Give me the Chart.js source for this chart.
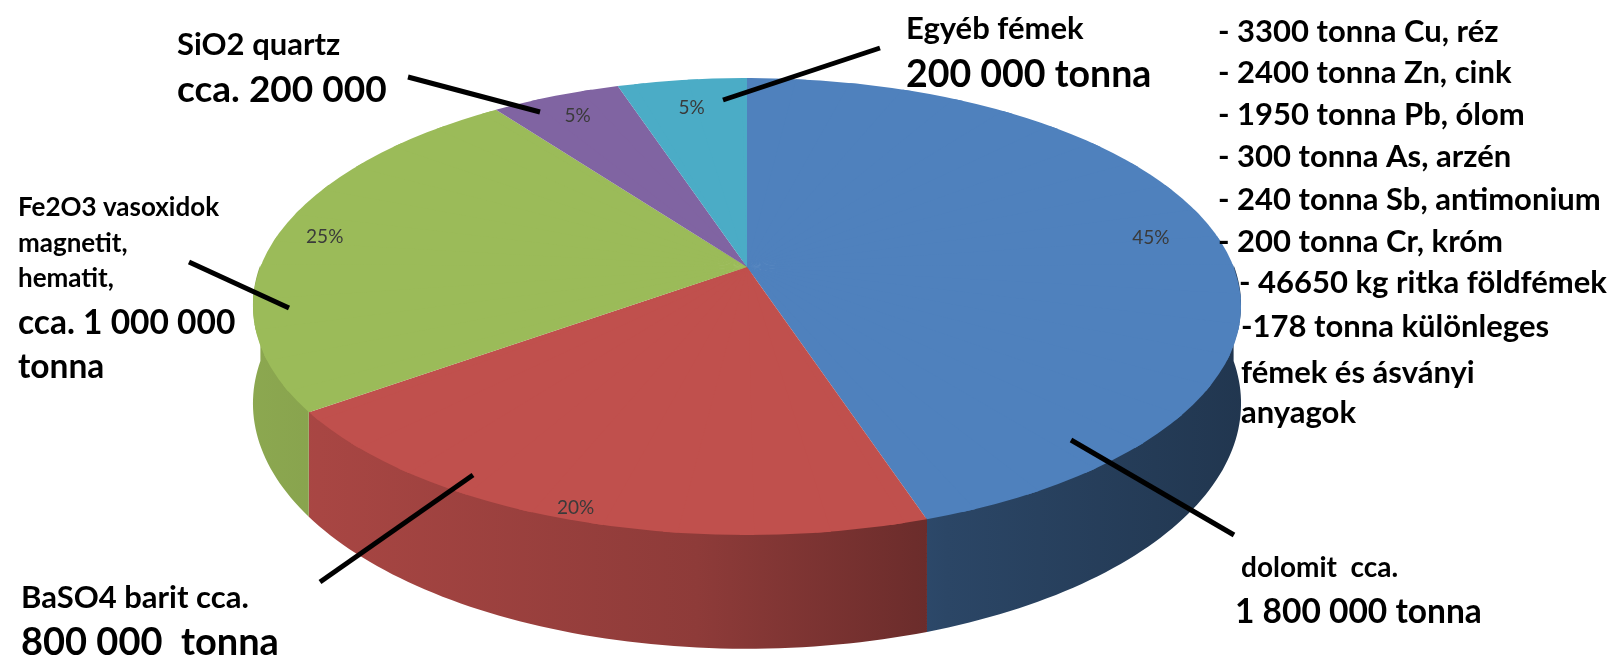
<!DOCTYPE html>
<html>
<head>
<meta charset="utf-8">
<script src="https://cdn.jsdelivr.net/npm/chart.js@4.4.1/dist/chart.umd.min.js"></script>
<style>
  html, body { margin: 0; padding: 0; background: #fff; }
  #pie { display: block; }
</style>
</head>
<body>
<canvas id="pie" width="1621" height="661"></canvas>
<script>
const labels = ['dolomit', 'BaSO4 barit', 'Fe2O3 vasoxidok', 'SiO2 quartz', 'Egyéb fémek'];
const tonnes = [1800000, 800000, 1000000, 200000, 200000];
const sliceColors = ['#4F81BD', '#C0504D', '#9BBB59', '#8064A2', '#4BACC6'];

// how far out (fraction of radius) each percentage sits
const labelDepth = [0.86, 0.96, 0.9, 0.87, 0.83];

// tilted disc seen in perspective: centre, half axes, perspective factor, wall height
const view = { x: 747, y: 267, a: 486.6, b: 221.7, k: 0.173, h: 94 };

const FONT = 'Lato, "Liberation Sans", sans-serif';

const callouts = [
  { text: [['SiO2 quartz', 31, 177, 55], ['cca. 200 000', 37, 177, 102]], line: [408, 77, 540, 112] },
  { text: [['Egyéb fémek', 31, 906, 39], ['200 000 tonna', 37.5, 906, 87]], line: [880, 48, 723, 100] },
  { text: [['Fe2O3 vasoxidok', 26, 18, 216], ['magnetit,', 26, 18, 252], ['hematit,', 26, 18, 287],
           ['cca. 1 000 000', 33.5, 18, 334], ['tonna', 33.5, 18, 378]], line: [189, 262, 289, 308] },
  { text: [['BaSO4 barit cca.', 31, 21, 608], ['800 000  tonna', 38, 21, 655]], line: [320, 582, 473, 475] },
  { text: [['dolomit  cca.', 28, 1241, 577], ['1 800 000 tonna', 33.5, 1235, 623]], line: [1071, 440, 1234, 535] },
  { text: [['- 3300 tonna Cu, réz', 31, 1218, 42], ['- 2400 tonna Zn, cink', 31, 1218, 83],
           ['- 1950 tonna Pb, ólom', 31, 1218, 125], ['- 300 tonna As, arzén', 31, 1218, 167],
           ['- 240 tonna Sb, antimonium', 31, 1218, 210], ['- 200 tonna Cr, króm', 31, 1218, 252],
           ['- 46650 kg ritka földfémek', 31, 1239, 293], ['-178 tonna különleges', 31, 1241, 337],
           ['fémek és ásványi', 31, 1241, 383], ['anyagok', 31, 1241, 423]] }
];

function project(angle, r) {
  const x = Math.cos(angle) * r, z = Math.sin(angle) * r;
  const w = 1 - view.k * z;
  return { x: view.x + view.a * x / w, y: view.y + view.b * z / w, w: w };
}

function shade(hex, f) {
  const n = parseInt(hex.slice(1), 16);
  const r = Math.round(((n >> 16) & 255) * f), g = Math.round(((n >> 8) & 255) * f), b = Math.round((n & 255) * f);
  return `rgb(${r},${g},${b})`;
}

function drawWalls(chart) {
  const ctx = chart.ctx;
  const meta = chart.getDatasetMeta(0);
  meta.data.forEach((arc, i) => {
    const t0 = Math.max(arc.startAngle, 0), t1 = Math.min(arc.endAngle, Math.PI);
    if (t1 <= t0) return;
    const steps = Math.max(2, Math.ceil((t1 - t0) / 0.02));
    const top = [];
    for (let s = 0; s <= steps; s++) top.push(project(t0 + (t1 - t0) * s / steps, 1));
    const grad = ctx.createLinearGradient(view.x - 500, 0, view.x + 500, 0);
    grad.addColorStop(0, shade(sliceColors[i], 0.9));
    grad.addColorStop(0.45, shade(sliceColors[i], 0.74));
    grad.addColorStop(0.7, shade(sliceColors[i], 0.54));
    grad.addColorStop(1, shade(sliceColors[i], 0.42));
    ctx.save();
    ctx.beginPath();
    top.forEach((p, j) => j ? ctx.lineTo(p.x, p.y - 2) : ctx.moveTo(p.x, p.y - 2));
    for (let j = top.length - 1; j >= 0; j--) ctx.lineTo(top[j].x, top[j].y + view.h / top[j].w);
    ctx.closePath();
    ctx.fillStyle = grad;
    ctx.fill();
    ctx.restore();
  });
}

// let Chart.js draw the slices, one thin wedge at a time, each wedge mapped
// onto the perspective disc by its own affine transform
function drawTop(chart) {
  const ctx = chart.ctx;
  const meta = chart.getDatasetMeta(0);
  const first = meta.data[0];
  const cx = first.x, cy = first.y, R = first.outerRadius;
  const n = 48;
  for (let i = 0; i < n; i++) {
    const a0 = -Math.PI + i * 2 * Math.PI / n;
    const a1 = a0 + 2 * Math.PI / n;
    const mid = (a0 + a1) / 2;
    const p0 = project(a0, 1), p1 = project(a1, 1);
    const w0x = p0.x - view.x, w0y = p0.y - view.y, w1x = p1.x - view.x, w1y = p1.y - view.y;
    const v0x = Math.cos(a0), v0y = Math.sin(a0), v1x = Math.cos(a1), v1y = Math.sin(a1);
    const det = v0x * v1y - v1x * v0y;
    const m11 = (w0x * v1y - w1x * v0y) / det;
    const m12 = (w1x * v0x - w0x * v1x) / det;
    const m21 = (w0y * v1y - w1y * v0y) / det;
    const m22 = (w1y * v0x - w0y * v1x) / det;
    const a = m11 / R, b = m21 / R, c = m12 / R, d = m22 / R;
    ctx.save();
    ctx.transform(a, b, c, d, view.x - (a * cx + c * cy), view.y - (b * cx + d * cy));
    ctx.beginPath();
    ctx.moveTo(cx - 4 * Math.cos(mid), cy - 4 * Math.sin(mid));
    [a0 - 0.012, mid, a1 + 0.012].forEach(t => ctx.lineTo(cx + 2 * R * Math.cos(t), cy + 2 * R * Math.sin(t)));
    ctx.closePath();
    ctx.clip();
    meta.controller.draw();
    ctx.restore();
  }
}

function drawLabels(chart) {
  const ctx = chart.ctx;
  const meta = chart.getDatasetMeta(0);
  const total = tonnes.reduce((s, v) => s + v, 0);
  ctx.save();
  ctx.font = '19px ' + FONT;
  ctx.fillStyle = '#3a3a3a';
  ctx.textAlign = 'center';
  ctx.textBaseline = 'middle';
  meta.data.forEach((arc, i) => {
    const p = project((arc.startAngle + arc.endAngle) / 2, labelDepth[i]);
    ctx.fillText(Math.round(tonnes[i] / total * 100) + '%', p.x, p.y);
  });
  ctx.restore();
}

function drawCallouts(chart) {
  const ctx = chart.ctx;
  ctx.save();
  ctx.fillStyle = '#000';
  ctx.strokeStyle = '#000';
  ctx.lineWidth = 5;
  ctx.textBaseline = 'alphabetic';
  callouts.forEach(c => {
    if (c.line) {
      ctx.beginPath();
      ctx.moveTo(c.line[0], c.line[1]);
      ctx.lineTo(c.line[2], c.line[3]);
      ctx.stroke();
    }
    c.text.forEach(([t, size, x, y]) => {
      ctx.font = `bold ${size}px ${FONT}`;
      ctx.fillText(t, x, y);
    });
  });
  ctx.restore();
}

const pie3d = {
  id: 'pie3d',
  beforeDatasetsDraw(chart) {
    drawWalls(chart);
    drawTop(chart);
    return false;
  },
  afterDraw(chart) {
    drawLabels(chart);
    drawCallouts(chart);
  }
};

new Chart(document.getElementById('pie'), {
  type: 'pie',
  data: {
    labels: labels,
    datasets: [{ data: tonnes, backgroundColor: sliceColors, borderWidth: 0, clip: false }]
  },
  options: {
    responsive: false,
    animation: false,
    devicePixelRatio: 1,
    events: [],
    plugins: { legend: { display: false }, tooltip: { enabled: false } }
  },
  plugins: [pie3d]
});
</script>
</body>
</html>
